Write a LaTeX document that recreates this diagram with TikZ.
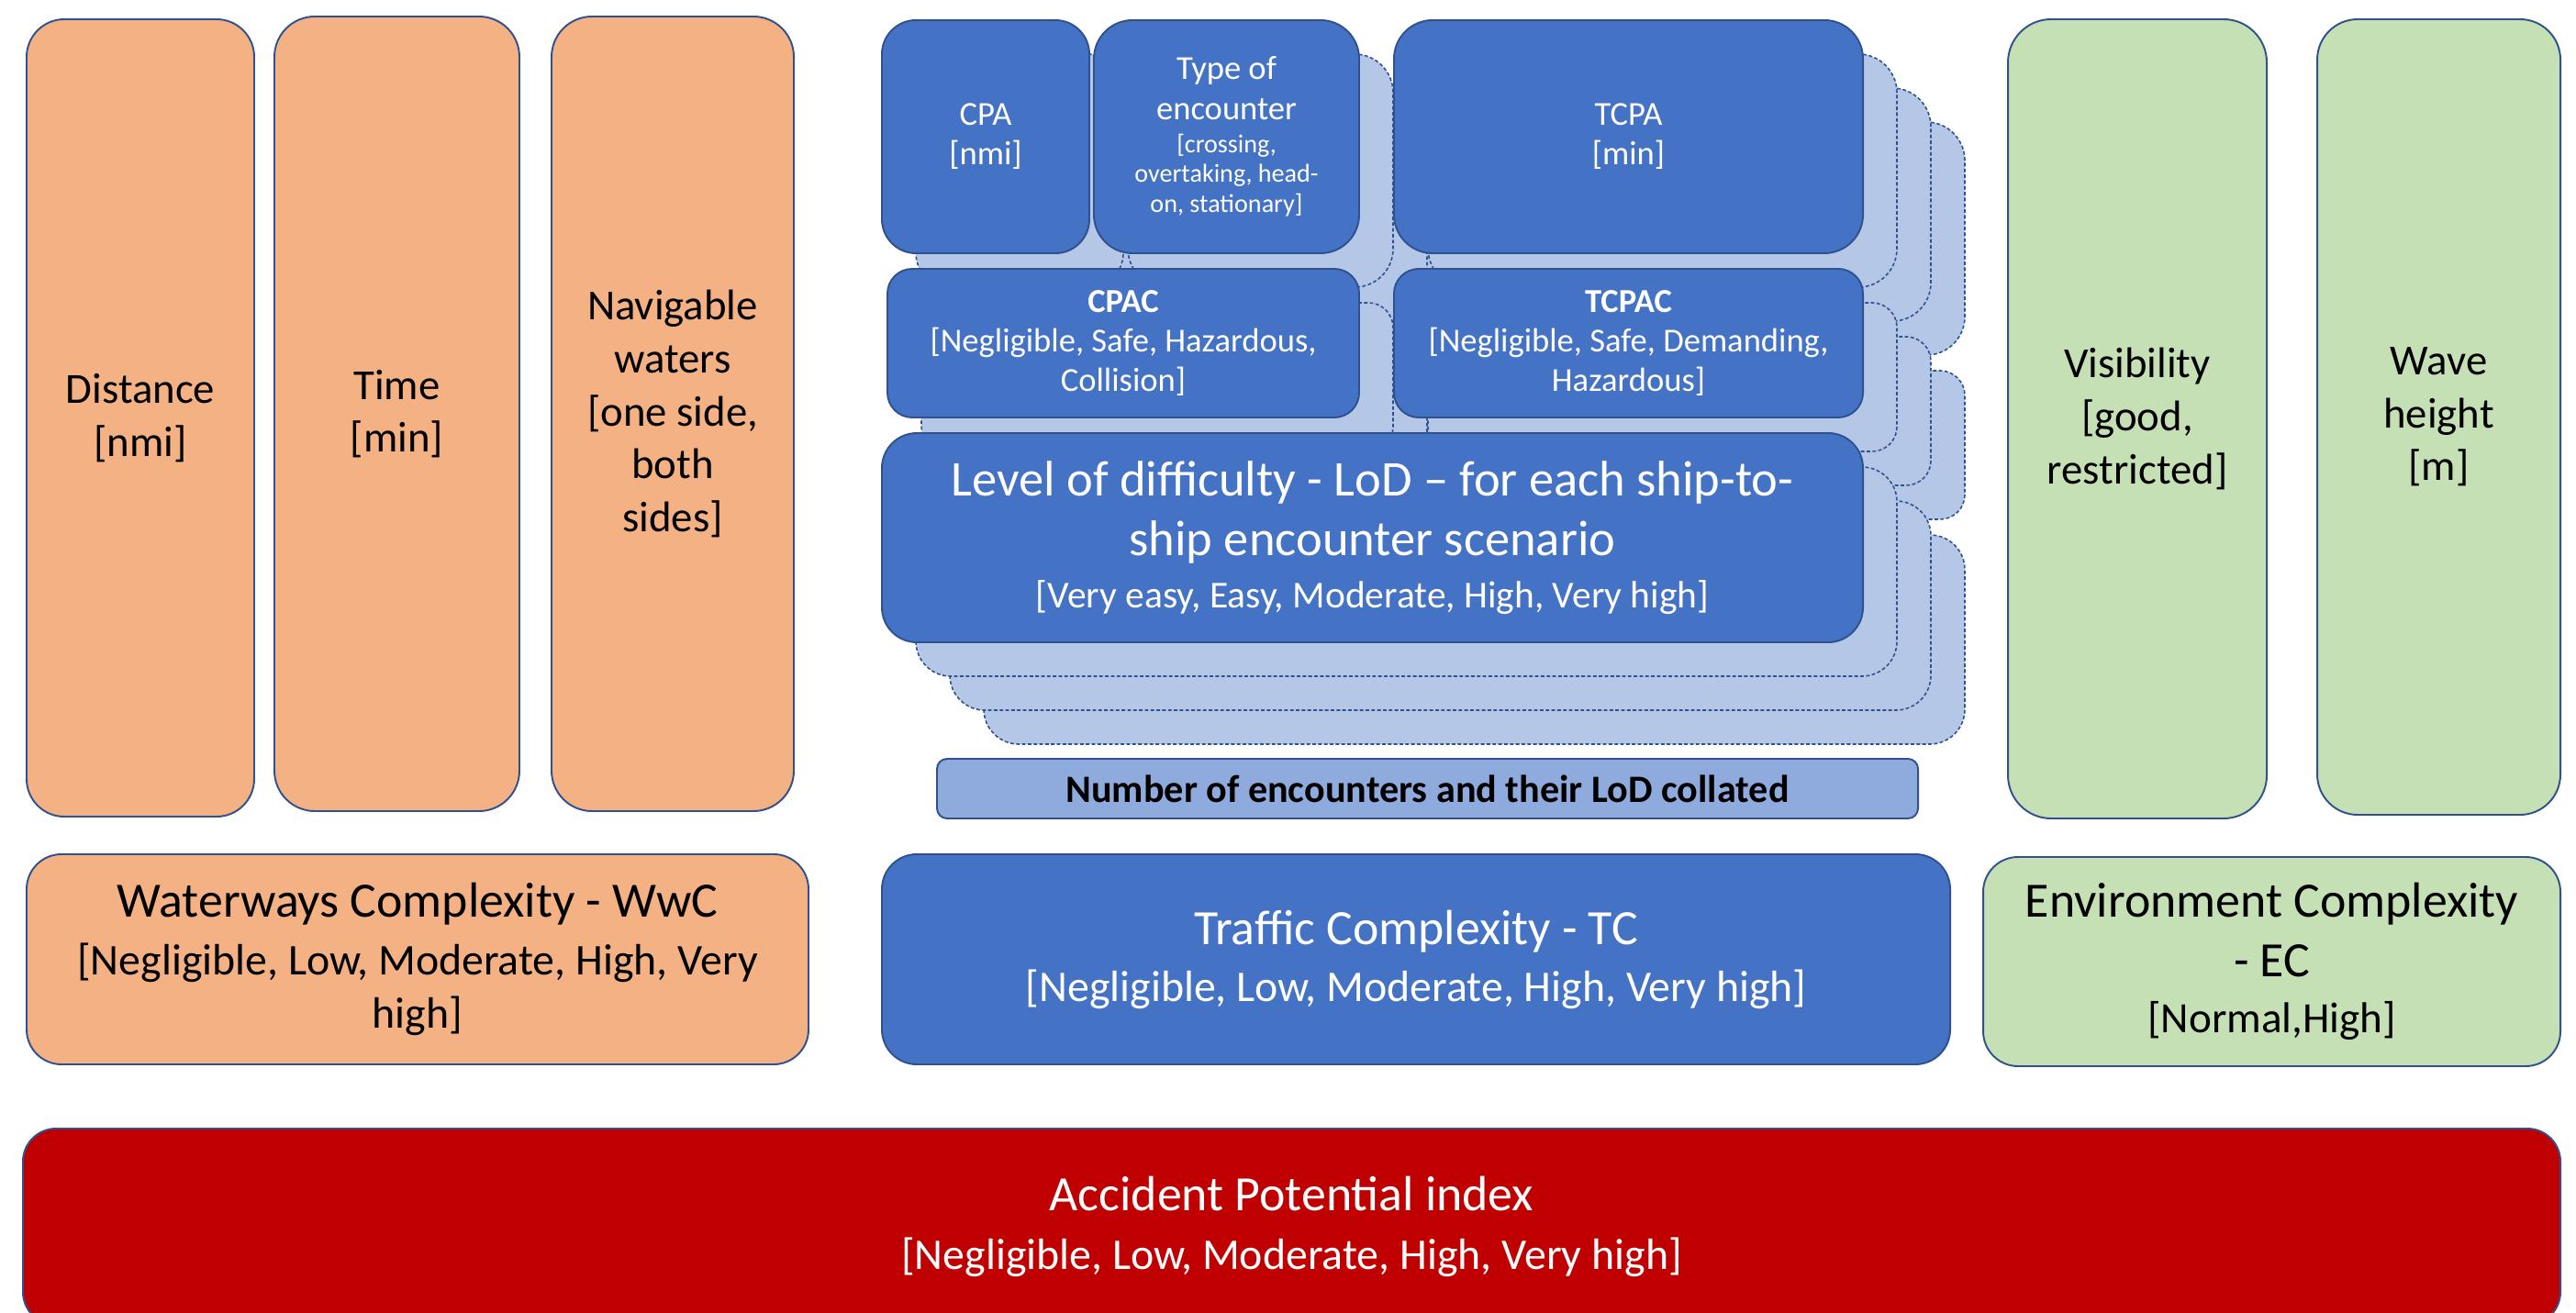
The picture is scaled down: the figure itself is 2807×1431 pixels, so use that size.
\documentclass[tikz,border=0pt]{standalone}
\usepackage{fontspec}
\setmainfont{Carlito}

\definecolor{edgeblue}{HTML}{2F528F}
\definecolor{orangefill}{HTML}{F4B183}
\definecolor{greenfill}{HTML}{C5E0B4}
\definecolor{bluefill}{HTML}{4472C4}
\definecolor{paleblue}{HTML}{B4C7E7}
\definecolor{barblue}{HTML}{8FAADC}
\definecolor{redfill}{HTML}{C00000}

\tikzset{
  panel/.style={draw=edgeblue, line width=0.55pt, inner sep=0pt, outer sep=0pt, align=flush center},
  orangepanel/.style={panel, fill=orangefill, text=black},
  greenpanel/.style={panel, fill=greenfill, text=black},
  bluepanel/.style={panel, fill=bluefill, text=white},
  barpanel/.style={panel, fill=barblue, text=black},
  redpanel/.style={panel, fill=redfill, text=white},
  ghostpanel/.style={draw=edgeblue, fill=paleblue, line width=0.45pt, dash pattern=on 1.1pt off 0.7pt},
  bodyfont/.style={font=\fontsize{13.3}{16.4}\selectfont},
  smallfont/.style={font=\fontsize{10.4}{12.3}\selectfont},
}

% \panel{options}{name}{left}{top}{right}{bottom}{text}: a box spanning the given corners
\newcommand\panel[7]{%
  \node[#1, minimum width={(#5-#3)*0.01cm}, minimum height={(#6-#4)*0.01cm}]
    (#2) at ({(#3+#5)/2},{(#4+#6)/2}) {#7};}

% outlines of the encounter group, repeated behind it as a stacked deck
\newcommand\encounterdeck{%
  \path[ghostpanel, rounded corners=0.37cm] (961,22) rectangle (1187,276);
  \path[ghostpanel, rounded corners=0.42cm] (1192,22) rectangle (1481,276);
  \path[ghostpanel, rounded corners=0.42cm] (1519,22) rectangle (2030,276);
  \path[ghostpanel, rounded corners=0.27cm] (967,293) rectangle (1481,455);
  \path[ghostpanel, rounded corners=0.27cm] (1519,293) rectangle (2030,455);
  \path[ghostpanel, rounded corners=0.38cm] (961,472) rectangle (2030,700);
}

\begin{document}
\begin{tikzpicture}[x=0.01cm, y=-0.01cm]
\useasboundingbox (0,0) rectangle (2807,1431);
\clip (0,0) rectangle (2807,1431);

% waterway factors
\panel{orangepanel, bodyfont, rounded corners=0.41cm, text width=2.3cm}{distance}{29}{21}{277}{890}
  {Distance\\ {[nmi]}}
\panel{orangepanel, bodyfont, rounded corners=0.44cm, text width=2.4cm}{time}{299}{18}{566}{884}
  {Time\\ {[min]}}
\panel{orangepanel, bodyfont, rounded corners=0.44cm, text width=2.4cm}{navigable}{601}{18}{865}{884}
  {Navigable\\ waters\\ {[one side,}\\ both\\ sides]}

% environment factors
\panel{greenpanel, bodyfont, rounded corners=0.47cm, text width=2.6cm}{visibility}{2188}{21}{2470}{892}
  {Visibility\\ {[good,}\\ restricted]}
\panel{greenpanel, bodyfont, rounded corners=0.44cm, text width=2.4cm}{wave}{2525}{21}{2790}{888}
  {Wave\\ height\\ {[m]}}

% stacked copies of the encounter group
\begin{scope}[shift={(111,111)}]\encounterdeck\end{scope}
\begin{scope}[shift={(74,74)}]\encounterdeck\end{scope}
\begin{scope}[shift={(37,37)}]\encounterdeck\end{scope}

% encounter group
\panel{bluepanel, smallfont, rounded corners=0.37cm, text width=2.0cm}{cpa}{961}{22}{1187}{276}
  {CPA\\ {[nmi]}}
\panel{bluepanel, rounded corners=0.42cm, text width=2.7cm}{type}{1192}{22}{1481}{276}
  {{\fontsize{10.4}{12.3}\selectfont Type of\\ encounter\par}\vspace{1pt}%
   {\fontsize{8}{9.3}\selectfont [crossing,\\ overtaking, head-\\ on, stationary]\par}}
\panel{bluepanel, smallfont, rounded corners=0.42cm, text width=4.8cm}{tcpa}{1519}{22}{2030}{276}
  {TCPA\\ {[min]}}
\panel{bluepanel, smallfont, rounded corners=0.27cm, text width=4.9cm}{cpac}{967}{293}{1481}{455}
  {\textbf{CPAC}\\ {[Negligible, Safe, Hazardous,}\\ Collision]}
\panel{bluepanel, smallfont, rounded corners=0.27cm, text width=4.9cm}{tcpac}{1519}{293}{2030}{455}
  {\textbf{TCPAC}\\ {[Negligible, Safe, Demanding,}\\ Hazardous]}
\panel{bluepanel, rounded corners=0.38cm, text width=10.3cm}{lod}{961}{472}{2030}{700}
  {{\fontsize{15.5}{18.5}\selectfont Level of difficulty - LoD – for each ship-to-\\ ship encounter scenario\par}%
   {\fontsize{11.8}{16.2}\selectfont [Very easy, Easy, Moderate, High, Very high]\par}}

\panel{barpanel, rounded corners=0.11cm, text width=10.4cm}{collated}{1021}{827}{2090}{892}
  {\fontsize{12}{14}\selectfont\bfseries Number of encounters and their LoD collated}

% complexity indices
\panel{orangepanel, rounded corners=0.38cm, text width=8.2cm}{wwc}{29}{931}{881}{1160}
  {{\fontsize{15.3}{18}\selectfont Waterways Complexity - WwC\par}\vspace{1.5pt}%
   {\fontsize{13.6}{16.4}\selectfont [Negligible, Low, Moderate, High, Very\\ high]\par}}
\panel{bluepanel, rounded corners=0.38cm, text width=11.2cm}{tc}{961}{931}{2125}{1160}
  {{\fontsize{15.3}{18}\selectfont Traffic Complexity - TC\par}%
   {\fontsize{13.6}{17.6}\selectfont [Negligible, Low, Moderate, High, Very high]\par}}
\panel{greenpanel, rounded corners=0.38cm, text width=6.0cm}{ec}{2161}{934}{2790}{1162}
  {{\fontsize{15.3}{18.4}\selectfont Environment Complexity\\ - EC\par}%
   {\fontsize{13.4}{17.6}\selectfont [Normal,High]\par}}

% overall index
\panel{redpanel, rounded corners=0.36cm, text width=27cm}{api}{25}{1230}{2790}{1444}
  {{\fontsize{15.3}{18}\selectfont Accident Potential index\par}%
   {\fontsize{13.6}{18.4}\selectfont [Negligible, Low, Moderate, High, Very high]\par}}
\end{tikzpicture}
\end{document}
